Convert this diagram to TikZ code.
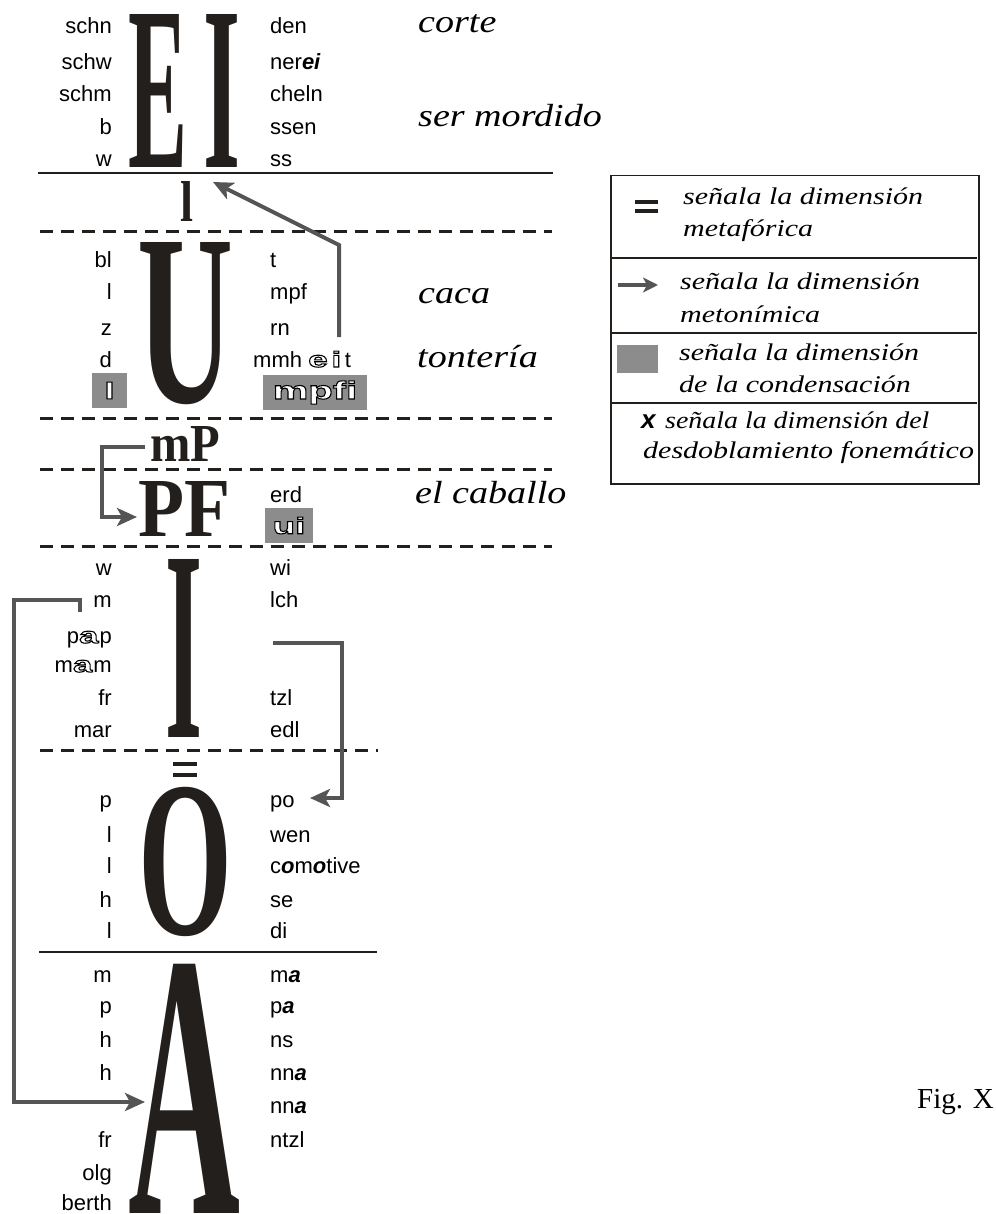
\documentclass[tikz,border=0pt]{standalone}
\usepackage{fontspec}
\usetikzlibrary{arrows.meta}
\newfontfamily\sansf{Liberation Sans}
\newfontfamily\olsans{Liberation Sans}[FakeStretch=1.6]
\newfontfamily\bigserif{Liberation Serif}
\newfontfamily\labserif{Liberation Serif}[FakeStretch=1.19]
\newfontfamily\legserif{Liberation Serif}[FakeStretch=1.25]
\newfontfamily\figserif{Liberation Serif}
\definecolor{ink}{HTML}{231F1C}
\definecolor{arrc}{HTML}{555555}
\definecolor{boxc}{HTML}{8C8C8C}
% outlined (hollow) letters: white fill, black stroke
\newcommand\outl[1]{{\olsans\bfseries\textcolor{white}{\special{pdf:literal direct 0 G 2 Tr 1.1 w}#1\special{pdf:literal direct 0 Tr}}}}
\newcommand\bia[1]{{\sansf\bfseries\itshape #1}}
\begin{document}
\begin{tikzpicture}[x=1pt,y=-1pt,
  lt/.style={anchor=base east,inner sep=0pt,font=\sansf\fontsize{22}{22}\selectfont},
  rt/.style={anchor=base west,inner sep=0pt,font=\sansf\fontsize{22}{22}\selectfont},
  big/.style={anchor=south west,inner sep=0pt,text=ink,font=\bigserif\bfseries},
  lab/.style={anchor=base west,inner sep=0pt,font=\labserif\itshape\fontsize{32}{32}\selectfont},
  leg/.style={anchor=base west,inner sep=0pt,font=\legserif\itshape\fontsize{24}{24}\selectfont},
  solidrule/.style={line width=2.5pt,draw=ink},
  dashrule/.style={line width=3pt,draw=ink,dash pattern=on 13pt off 8pt},
  arr/.style={draw=arrc,line width=4pt,-{Stealth[length=20pt,width=18pt,inset=5pt]}},
  legarr/.style={draw=arrc,line width=4pt,-{Stealth[length=15pt,width=15pt,inset=4pt]}},
  gbox/.style={fill=boxc,inner sep=0pt,minimum height=35pt,font=\sansf\fontsize{23}{23}\selectfont},
]
\useasboundingbox (0,0) rectangle (995,1214);

% rules
\draw[solidrule] (38,173) -- (553,173);
\draw[dashrule] (40,232) -- (552,232);
\draw[dashrule] (40,418) -- (552,418);
\draw[dashrule] (40,469) -- (552,469);
\draw[dashrule] (40,546) -- (552,546);
\draw[dashrule] (40,750) -- (378,750);
\draw[solidrule] (39,952) -- (377,952);

% big letters
\node[big] (E) at (128,168) {\resizebox{59pt}{153pt}{E}};
\node[big] (I1) at (203,168) {\resizebox{37pt}{153pt}{I}};
\node[big] (lsm) at (180,222) {\resizebox{13pt}{40pt}{l}};
\node[big] (U) at (137,405) {\resizebox{96pt}{160pt}{U}};
\node[big] (mP) at (150,462) {\resizebox{70pt}{35pt}{mP}};
\node[big] (PF) at (138,537) {\resizebox{92pt}{55pt}{PF}};
\node[big] (I2) at (165,738) {\resizebox{37pt}{178pt}{I}};
\node[big] (O) at (138,937) {\resizebox{94pt}{147pt}{O}};
\node[big] (A) at (128,1214) {\resizebox{112pt}{249pt}{A}};
\fill[ink] (173,762) rectangle (197,766);
\fill[ink] (173,773) rectangle (197,777);

% EI section
\node[lt] (l1) at (112,34) {schn};
\node[lt] (l2) at (112,70) {schw};
\node[lt] (l3) at (112,102) {schm};
\node[lt] (l4) at (112,135) {b};
\node[lt] (l5) at (112,167) {w};
\node[rt] (r1) at (270,34) {den};
\node[rt] (r2) at (270,70) {ner\bia{ei}};
\node[rt] (r3) at (270,102) {cheln};
\node[rt] (r4) at (270,135) {ssen};
\node[rt] (r5) at (270,167) {ss};

% U section
\node[lt] (l6) at (112,268) {bl};
\node[lt] (l7) at (112,300) {l};
\node[lt] (l8) at (112,335) {z};
\node[lt] (l9) at (112,367) {d};
\node[gbox,minimum width=35pt] (bxl) at (109.5,390.5) {\outl{l}};
\node[rt] (r6) at (270,268) {t};
\node[rt] (r7) at (270,300) {mpf};
\node[rt] (r8) at (270,335) {rn};
\node[rt] (r9) at (253,367) {mmh \outl{e}\,\outl{i}\,t};
\node[gbox,minimum width=104pt,font=\sansf\fontsize{25}{25}\selectfont] (bxmpfi) at (315,392.5) {\outl{mpfi}};

% PF section
\node[rt] (r10) at (270,502) {erd};
\node[gbox,minimum width=48pt] (bxui) at (289,525.5) {\outl{ui}};

% I section
\node[lt] (l10) at (112,575) {w};
\node[lt] (l11) at (112,607) {m};
\node[lt] (l12) at (112,643) {p\outl{a}\kern1pt p};
\node[lt] (l13) at (112,672) {m\outl{a}\kern1pt m};
\node[lt] (l14) at (112,705) {fr};
\node[lt] (l15) at (112,737) {mar};
\node[rt] (r11) at (270,575) {wi};
\node[rt] (r12) at (270,607) {lch};
\node[rt] (r13) at (270,705) {tzl};
\node[rt] (r14) at (270,737) {edl};

% O section
\node[lt] (l16) at (112,807) {p};
\node[lt] (l17) at (112,842) {l};
\node[lt] (l18) at (112,873) {l};
\node[lt] (l19) at (112,907) {h};
\node[lt] (l20) at (112,938) {l};
\node[rt] (po) at (270,807) {po};
\node[rt] (r15) at (270,842) {wen};
\node[rt] (r16) at (270,873) {c\bia{o}m\bia{o}tive};
\node[rt] (r17) at (270,907) {se};
\node[rt] (r18) at (270,938) {di};

% A section
\node[lt] (l21) at (112,982) {m};
\node[lt] (l22) at (112,1013) {p};
\node[lt] (l23) at (112,1047) {h};
\node[lt] (l24) at (112,1080) {h};
\node[lt] (l25) at (112,1147) {fr};
\node[lt] (l26) at (112,1180) {olg};
\node[lt] (l27) at (112,1210) {berth};
\node[rt] (r19) at (270,982) {m\bia{a}};
\node[rt] (r20) at (270,1013) {p\bia{a}};
\node[rt] (r21) at (270,1047) {ns};
\node[rt] (r22) at (270,1080) {nn\bia{a}};
\node[rt] (r23) at (270,1113) {nn\bia{a}};
\node[rt] (r24) at (270,1147) {ntzl};

% italic labels
\node[lab] (c1) at (418,33) {corte};
\node[lab] (c2) at (418,127) {ser mordido};
\node[lab] (c3) at (418,303) {caca};
\node[lab] (c4) at (417,367) {tontería};
\node[lab] (c5) at (415,503) {el caballo};

% arrows
\coordinate (a1s) at (339,337);
\coordinate (a1k) at (339,245);
\coordinate (a1t) at (213,182);
\draw[arr] (a1s) -- (a1k) -- (a1t);

\coordinate (a2s) at (145,447);
\coordinate (a2k) at (102,517);
\coordinate (a2t) at (137,517);
\draw[arr] (a2s) -| (a2k) -- (a2t);

\coordinate (a3s) at (273,643);
\coordinate (a3k) at (342,798);
\coordinate (a3t) at (310,798);
\draw[arr] (a3s) -| (a3k) -- (a3t);

\coordinate (a4s) at (80,612);
\coordinate (a4c) at (14,600);
\coordinate (a4k) at (14,1102);
\coordinate (a4t) at (145,1102);
\draw[arr] (a4s) -- (a4s |- a4c) -- (a4c) -- (a4k) -- (a4t);

% legend
\node[draw=ink,line width=1.5pt,anchor=north west,inner sep=0pt,minimum width=368pt,minimum height=308pt] (legbox) at (610,175) {};
\draw[ink,line width=1.2pt] (611,258) -- (977,258);
\draw[ink,line width=1.2pt] (611,333) -- (977,333);
\draw[ink,line width=1.2pt] (611,403) -- (977,403);
\fill[ink] (635,200) rectangle (658,204);
\fill[ink] (635,209) rectangle (658,213);
\node[leg] (g1a) at (683,205) {señala la dimensión};
\node[leg] (g1b) at (683,237) {metafórica};
\coordinate (la1) at (618,285);
\coordinate (la2) at (658,285);
\draw[legarr] (la1) -- (la2);
\node[leg] (g2a) at (680,290) {señala la dimensión};
\node[leg] (g2b) at (680,322) {metonímica};
\fill[boxc] (617,345) rectangle (658,373);
\node[leg] (g3a) at (679,360) {señala la dimensión};
\node[leg] (g3b) at (679,392) {de la condensación};
\node[anchor=base west,inner sep=0pt,font=\sansf\bfseries\itshape\fontsize{26}{26}\selectfont] (gx) at (641,428) {x};
\node[leg] (g4a) at (665,428) {\scalebox{0.93}[1]{señala la dimensión del}};
\node[leg] (g4b) at (643,458) {desdoblamiento fonemático};

\node[anchor=base west,inner sep=0pt,font=\figserif\fontsize{29}{29}\selectfont] (fig) at (917,1108) {Fig. X};
\end{tikzpicture}
\end{document}
